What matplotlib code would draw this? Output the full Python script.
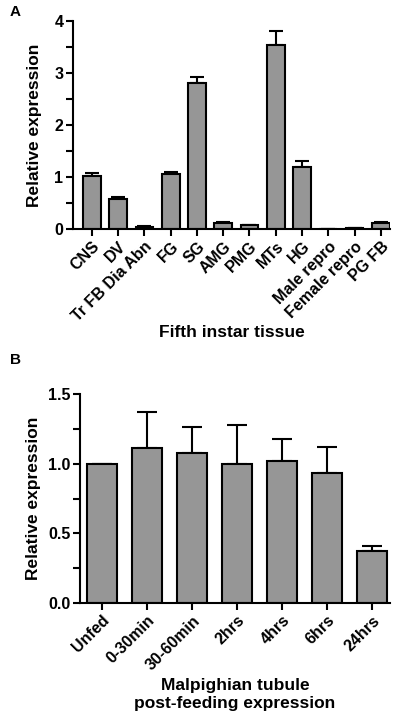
import numpy as np
import matplotlib
matplotlib.use("Agg")
import matplotlib.pyplot as plt
from matplotlib.ticker import MultipleLocator

plt.rcParams['font.family'] = ['Liberation Sans', 'DejaVu Sans']
plt.rcParams['font.weight'] = 'bold'

# Panel A: fifth instar tissues
tissues = ['CNS', 'DV', 'Tr FB Dia Abn', 'FG', 'SG', 'AMG', 'PMG', 'MTs', 'HG',
           'Male repro', 'Female repro', 'PG FB']
tissue_mean = [1.02, 0.57, 0.04, 1.06, 2.80, 0.12, 0.07, 3.54, 1.20, 0.0, 0.01, 0.11]
tissue_err = [0.05, 0.04, 0.01, 0.03, 0.12, 0.01, 0.01, 0.26, 0.10, 0.0, 0.0, 0.02]

# Panel B: Malpighian tubule time course
times = ['Unfed', '0-30min', '30-60min', '2hrs', '4hrs', '6hrs', '24hrs']
time_mean = [1.0, 1.11, 1.08, 1.0, 1.02, 0.93, 0.37]
time_err = [0.0, 0.26, 0.18, 0.28, 0.16, 0.19, 0.04]

bar_color = '#969696'
W, H = 397, 716
fig = plt.figure(figsize=(W / 100, H / 100), dpi=100)


def style(ax):
    for s in ['top', 'right']:
        ax.spines[s].set_visible(False)
    for s in ['left', 'bottom']:
        ax.spines[s].set_linewidth(1.5)
    ax.tick_params(axis='both', width=1.5, length=5, labelsize=11.5, pad=2)
    ax.tick_params(axis='y', which='minor', width=1.5, length=5)


# ---- A ----
axA = fig.add_axes([73 / W, 1 - 229 / H, (390 - 73) / W, (229 - 21) / H])
xa = np.arange(len(tissues))
axA.bar(xa, tissue_mean, width=0.68, color=bar_color, edgecolor='black', linewidth=1.5, zorder=2)
axA.errorbar(xa, tissue_mean, yerr=[np.zeros(len(xa)), tissue_err], fmt='none',
             ecolor='black', elinewidth=1.5, capsize=5, capthick=1.5, zorder=1)
axA.set_xlim(-0.72, 11.35)
axA.set_ylim(0, 4)
axA.yaxis.set_major_locator(MultipleLocator(1))
axA.yaxis.set_minor_locator(MultipleLocator(0.5))
axA.set_xticks(xa)
axA.set_xticklabels(tissues, rotation=45, ha='right', rotation_mode='anchor')
axA.set_ylabel('Relative expression', fontsize=12.5, fontweight='bold', labelpad=9)
axA.set_xlabel('Fifth instar tissue', fontsize=12.5, fontweight='bold', labelpad=1)
style(axA)

# ---- B ----
axB = fig.add_axes([80 / W, 1 - 603 / H, (390 - 80) / W, (603 - 394) / H])
xb = np.arange(len(times))
axB.bar(xb, time_mean, width=0.65, color=bar_color, edgecolor='black', linewidth=1.5, zorder=2)
axB.errorbar(xb, time_mean, yerr=[np.zeros(len(xb)), time_err], fmt='none',
             ecolor='black', elinewidth=1.5, capsize=7, capthick=1.5, zorder=1)
axB.set_xlim(-0.49, 6.4)
axB.set_ylim(0, 1.5)
axB.yaxis.set_major_locator(MultipleLocator(0.5))
axB.yaxis.set_minor_locator(MultipleLocator(0.25))
axB.yaxis.set_major_formatter(lambda v, p: f'{v:.1f}')
axB.set_xticks(xb)
axB.set_xticklabels(times, rotation=45, ha='right', rotation_mode='anchor')
axB.set_ylabel('Relative expression', fontsize=12.5, fontweight='bold', labelpad=5)
axB.set_xlabel('Malpighian tubule\npost-feeding expression', fontsize=12.5,
               fontweight='bold', labelpad=4)
style(axB)

fig.text(10 / W, 1 - 12 / H, 'A', fontsize=11, fontweight='bold', va='center')
fig.text(10 / W, 1 - 360 / H, 'B', fontsize=11, fontweight='bold', va='center')

fig.savefig('out.png', dpi=100)
